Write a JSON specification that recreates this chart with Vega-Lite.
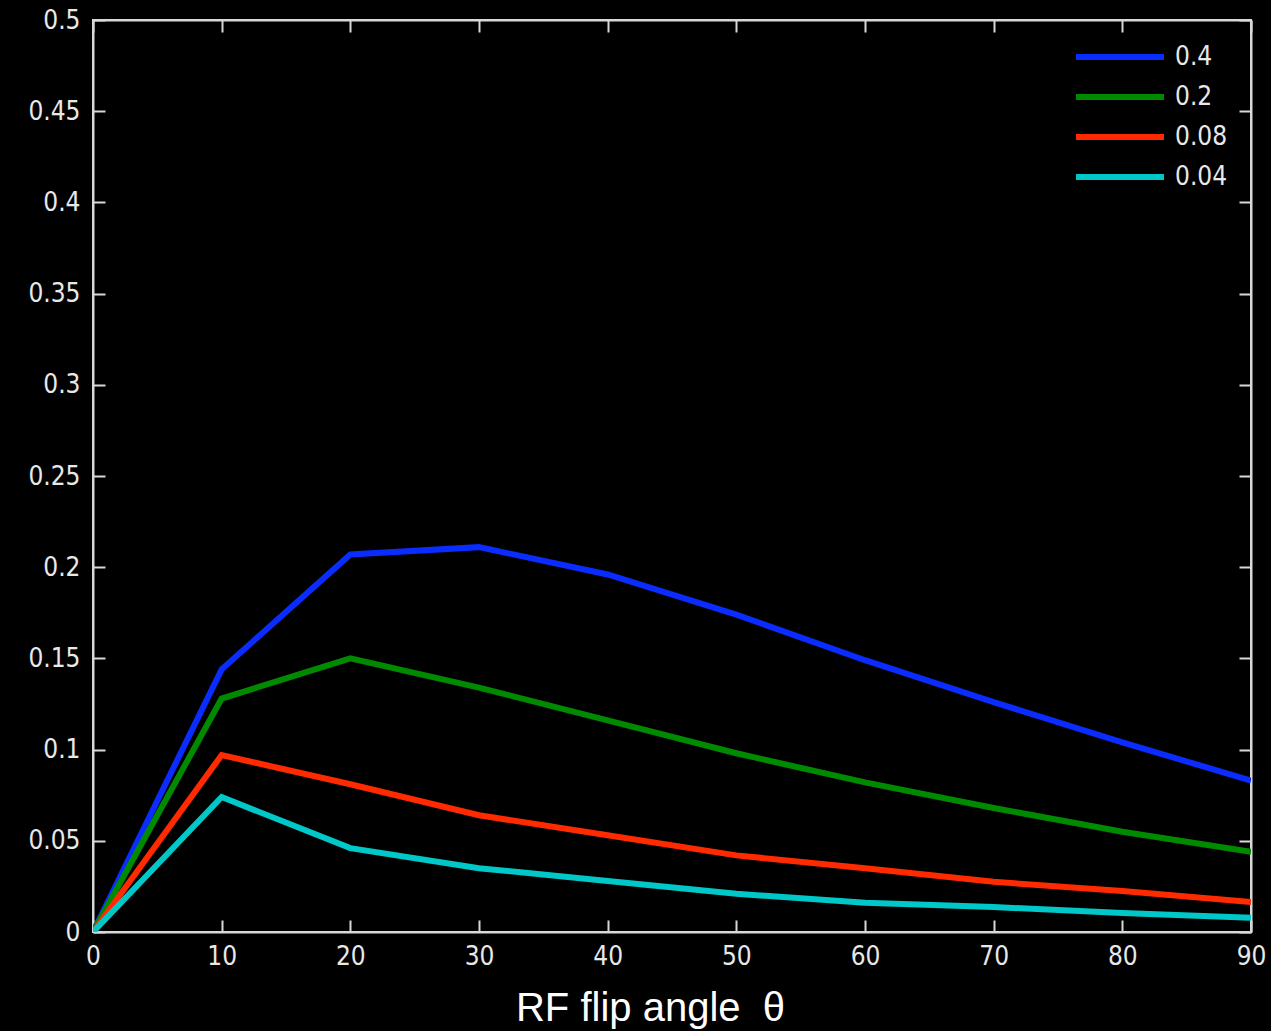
{
  "$schema": "https://vega.github.io/schema/vega-lite/v6.json",
  "width": 1158,
  "height": 912,
  "autosize": "none",
  "padding": {"left": 93, "top": 20, "right": 20, "bottom": 99},
  "background": "black",
  "config": {
    "view": {"stroke": "#d8d8d8", "strokeWidth": 2, "fill": "black"},
    "axis": {
      "domainColor": "#d8d8d8", "domainWidth": 2,
      "tickColor": "#d8d8d8", "tickWidth": 2, "tickSize": -12,
      "labelColor": "#e8e8e8", "labelFont": "DejaVu Sans Condensed", "labelFontSize": 26,
      "labelFlush": false, "labelOverlap": false,
      "grid": false
    }
  },
  "data": {"values": [
    {"angle": 0, "v": 0, "s": "0.4"}, {"angle": 10, "v": 0.144, "s": "0.4"}, {"angle": 20, "v": 0.207, "s": "0.4"}, {"angle": 30, "v": 0.211, "s": "0.4"}, {"angle": 40, "v": 0.196, "s": "0.4"}, {"angle": 50, "v": 0.174, "s": "0.4"}, {"angle": 60, "v": 0.149, "s": "0.4"}, {"angle": 70, "v": 0.126, "s": "0.4"}, {"angle": 80, "v": 0.104, "s": "0.4"}, {"angle": 90, "v": 0.083, "s": "0.4"},
    {"angle": 0, "v": 0, "s": "0.2"}, {"angle": 10, "v": 0.128, "s": "0.2"}, {"angle": 20, "v": 0.150, "s": "0.2"}, {"angle": 30, "v": 0.134, "s": "0.2"}, {"angle": 40, "v": 0.116, "s": "0.2"}, {"angle": 50, "v": 0.098, "s": "0.2"}, {"angle": 60, "v": 0.082, "s": "0.2"}, {"angle": 70, "v": 0.068, "s": "0.2"}, {"angle": 80, "v": 0.055, "s": "0.2"}, {"angle": 90, "v": 0.044, "s": "0.2"},
    {"angle": 0, "v": 0, "s": "0.08"}, {"angle": 10, "v": 0.097, "s": "0.08"}, {"angle": 20, "v": 0.081, "s": "0.08"}, {"angle": 30, "v": 0.064, "s": "0.08"}, {"angle": 40, "v": 0.053, "s": "0.08"}, {"angle": 50, "v": 0.042, "s": "0.08"}, {"angle": 60, "v": 0.035, "s": "0.08"}, {"angle": 70, "v": 0.0275, "s": "0.08"}, {"angle": 80, "v": 0.0225, "s": "0.08"}, {"angle": 90, "v": 0.0165, "s": "0.08"},
    {"angle": 0, "v": 0, "s": "0.04"}, {"angle": 10, "v": 0.074, "s": "0.04"}, {"angle": 20, "v": 0.046, "s": "0.04"}, {"angle": 30, "v": 0.035, "s": "0.04"}, {"angle": 40, "v": 0.028, "s": "0.04"}, {"angle": 50, "v": 0.021, "s": "0.04"}, {"angle": 60, "v": 0.016, "s": "0.04"}, {"angle": 70, "v": 0.0137, "s": "0.04"}, {"angle": 80, "v": 0.0104, "s": "0.04"}, {"angle": 90, "v": 0.0078, "s": "0.04"}
  ]},
  "layer": [
    {
      "mark": {"type": "line", "strokeWidth": 6, "clip": true},
      "encoding": {
        "x": {"field": "angle", "type": "quantitative",
              "scale": {"domain": [0, 90], "nice": false, "zero": false},
              "axis": {"orient": "bottom", "values": [0,10,20,30,40,50,60,70,80,90], "labelPadding": 23, "format": "d",
                       "title": "RF flip angle\u00a0\u00a0θ", "titleColor": "white", "titleFont": "Liberation Sans",
                       "titleFontSize": 40, "titleFontWeight": "normal", "titlePadding": 19,
                       "titleX": 557, "titleAlign": "center"}},
        "y": {"field": "v", "type": "quantitative",
              "scale": {"domain": [0, 0.5], "nice": false},
              "axis": {"orient": "left", "values": [0,0.05,0.1,0.15,0.2,0.25,0.3,0.35,0.4,0.45,0.5], "labelPadding": 25, "format": "~g", "title": null}},
        "color": {"field": "s", "type": "nominal",
                  "scale": {"domain": ["0.4", "0.2", "0.08", "0.04"], "range": ["#0a2cff", "#008a00", "#ff2a00", "#00c8c8"]},
                  "legend": {"title": null, "orient": "none", "legendX": 980, "legendY": 17,
                             "symbolType": "stroke", "symbolSize": 7744, "symbolStrokeWidth": 6,
                             "clipHeight": 40, "rowPadding": 0, "labelColor": "#e8e8e8", "labelFont": "DejaVu Sans Condensed",
                             "labelFontSize": 26, "labelOffset": 8}}
      }
    },
    {
      "mark": {"type": "line", "strokeOpacity": 0},
      "encoding": {
        "x": {"field": "angle", "type": "quantitative",
              "axis": {"orient": "top", "values": [0,10,20,30,40,50,60,70,80,90], "labels": false, "title": null}},
        "y": {"field": "v", "type": "quantitative",
              "axis": {"orient": "right", "values": [0,0.05,0.1,0.15,0.2,0.25,0.3,0.35,0.4,0.45,0.5], "labels": false, "title": null}},
        "detail": {"field": "s"}
      }
    }
  ],
  "resolve": {"axis": {"x": "independent", "y": "independent"}}
}
